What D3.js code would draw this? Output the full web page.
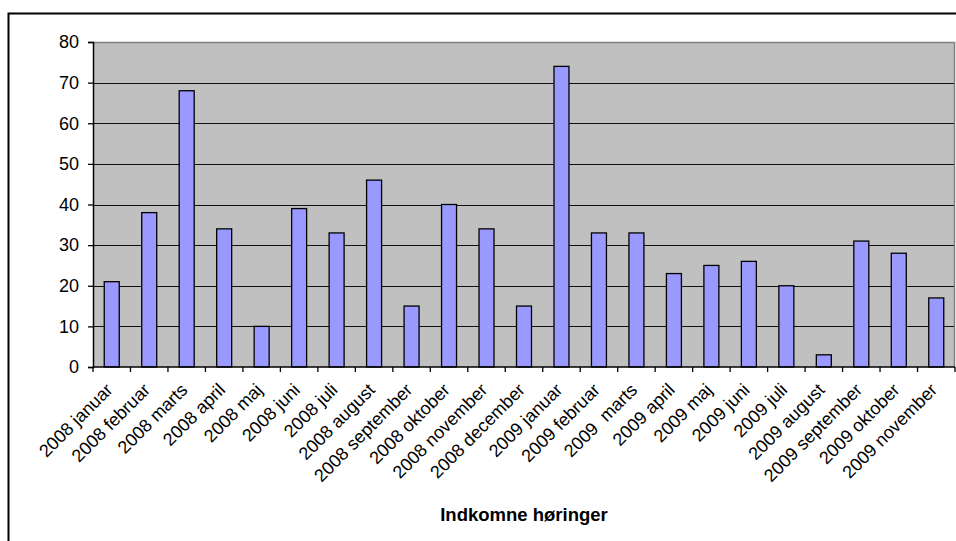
<!DOCTYPE html>
<html>
<head>
<meta charset="utf-8">
<script src="https://cdn.jsdelivr.net/npm/d3@7"></script>
<style>
  body { margin: 0; background: #fff; }
  svg { display: block; font-family: "Liberation Sans", Arial, sans-serif; }
</style>
</head>
<body>
<div id="chart"></div>
<script>
// data
const months = ["2008 januar", "2008 februar", "2008 marts", "2008 april", "2008 maj", "2008 juni",
    "2008 juli", "2008 august", "2008 september", "2008 oktober", "2008 november", "2008 december",
    "2009 januar", "2009 februar", "2009  marts", "2009 april", "2009 maj", "2009 juni",
    "2009 juli", "2009 august", "2009 september", "2009 oktober", "2009 november"];
const counts = [21, 38, 68, 34, 10, 39, 33, 46, 15, 40, 34, 15,
    74, 33, 33, 23, 25, 26, 20, 3, 31, 28, 17];
const yTicks = [0, 10, 20, 30, 40, 50, 60, 70, 80];
const xTitle = "Indkomne høringer";

const W = 956, H = 541;
const plot = {left: 93, right: 955, top: 42, bottom: 367};

let svg = d3.select("#chart").append("svg")
    .attr("width", W)
    .attr("height", H);

// outer chart border (runs off the right and bottom edge)
svg.append("rect")
    .attr("x", 8.5).attr("y", 13.5)
    .attr("width", W + 20).attr("height", H + 20)
    .attr("fill", "#fff")
    .attr("stroke", "#000")
    .attr("stroke-width", 2);

let x = d3.scaleBand()
    .domain(months)
    .range([plot.left, plot.right])
    .paddingInner(0.6)
    .paddingOuter(0.3);

let y = d3.scaleLinear()
    .domain([0, 80])
    .range([plot.bottom, plot.top]);

// plot area
svg.append("rect")
    .attr("x", plot.left).attr("y", plot.top)
    .attr("width", plot.right - plot.left)
    .attr("height", plot.bottom - plot.top)
    .attr("fill", "#c0c0c0");

svg.append("path")
    .attr("d", `M${plot.left},${plot.top + 0.5}H${plot.right - 0.5}V${plot.bottom}`)
    .attr("fill", "none")
    .attr("stroke", "#808080")
    .attr("stroke-width", 1.5);

// gridlines
svg.append("g").selectAll("line")
    .data(yTicks.filter(d => d > 0 && d < 80))
    .enter().append("line")
    .attr("x1", plot.left).attr("x2", plot.right - 1)
    .attr("y1", d => Math.round(y(d)) + 0.5)
    .attr("y2", d => Math.round(y(d)) + 0.5)
    .attr("stroke", "#111")
    .attr("stroke-width", 1.2);

// bars
svg.append("g").selectAll("rect")
    .data(counts)
    .enter().append("rect")
    .attr("x", (d, i) => x(months[i]))
    .attr("y", d => y(d))
    .attr("width", x.bandwidth())
    .attr("height", d => y(0) - y(d))
    .attr("fill", "#9999ff")
    .attr("stroke", "#000")
    .attr("stroke-width", 1.3);

// y axis
let yAxis = svg.append("g")
    .attr("transform", `translate(${plot.left},0)`)
    .call(d3.axisLeft(y).tickValues(yTicks).tickSize(5).tickPadding(9));
yAxis.select(".domain").attr("stroke", "#000").attr("stroke-width", 1.5);
yAxis.selectAll(".tick line").attr("stroke", "#000").attr("stroke-width", 1.3);
yAxis.selectAll(".tick text")
    .attr("font-size", 18)
    .attr("font-family", "Liberation Sans, Arial, sans-serif")
    .attr("fill", "#000");

// x axis: ticks sit between categories
let step = (plot.right - plot.left) / months.length;
let xAxisG = svg.append("g");
xAxisG.append("line")
    .attr("x1", plot.left).attr("x2", plot.right)
    .attr("y1", plot.bottom).attr("y2", plot.bottom)
    .attr("stroke", "#000").attr("stroke-width", 1.5);
xAxisG.selectAll(".xtick")
    .data(d3.range(months.length + 1))
    .enter().append("line")
    .attr("class", "xtick")
    .attr("x1", i => plot.left + i * step).attr("x2", i => plot.left + i * step)
    .attr("y1", plot.bottom).attr("y2", plot.bottom + 5)
    .attr("stroke", "#000").attr("stroke-width", 1.3);

xAxisG.selectAll(".xlabel")
    .data(months)
    .enter().append("text")
    .attr("class", "xlabel")
    .attr("transform", d => `translate(${x(d) + x.bandwidth() / 2 - 7},${plot.bottom + 15}) rotate(-45)`)
    .attr("text-anchor", "end")
    .attr("dy", "0.71em")
    .attr("font-size", 18)
    .attr("fill", "#000")
    .style("white-space", "pre")
    .text(d => d);

// axis title
svg.append("text")
    .attr("x", (plot.left + plot.right) / 2)
    .attr("y", 521)
    .attr("text-anchor", "middle")
    .attr("font-size", 18.5)
    .attr("font-weight", "bold")
    .attr("fill", "#000")
    .text(xTitle);
</script>
</body>
</html>
